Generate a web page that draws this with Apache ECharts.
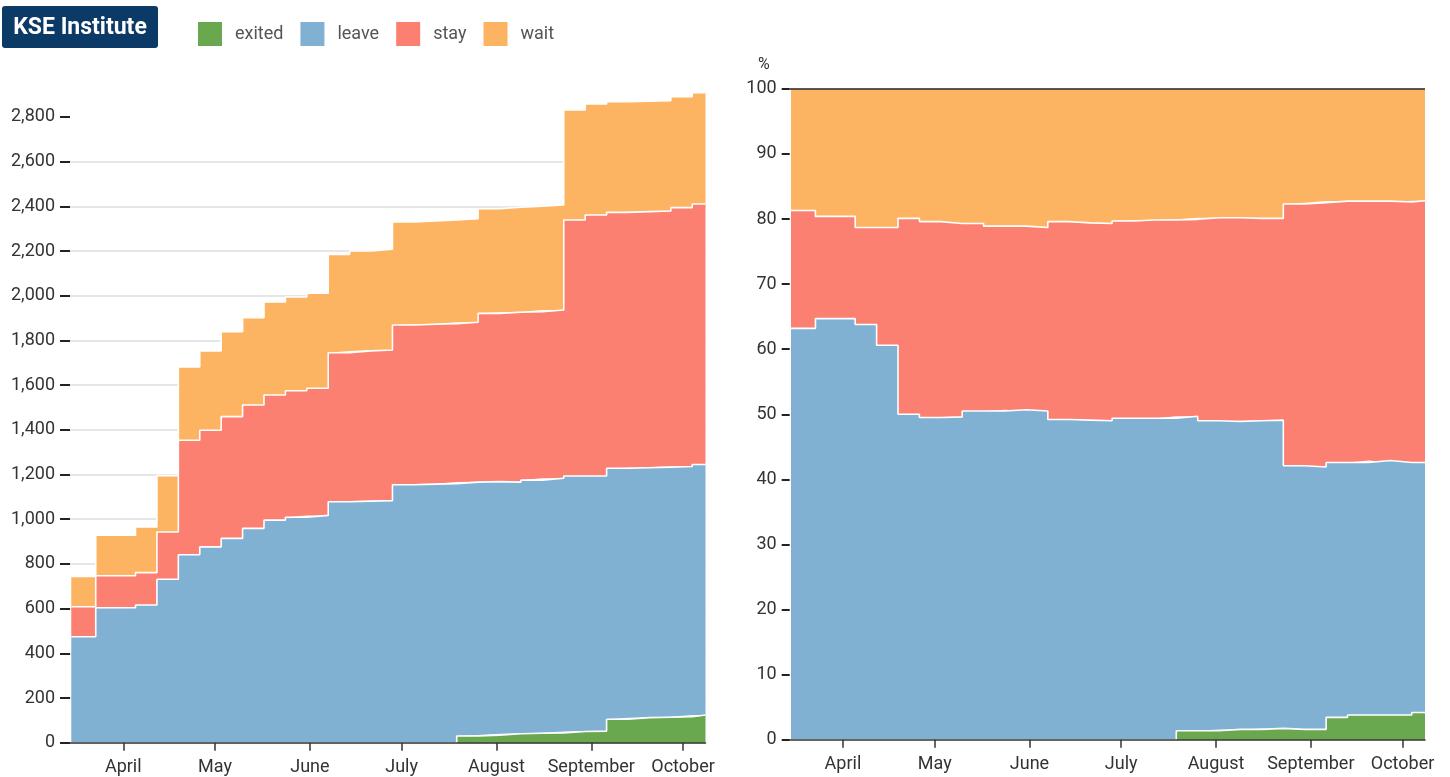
<!DOCTYPE html>
<html><head><meta charset="utf-8">
<script src="https://cdn.jsdelivr.net/npm/echarts@6/dist/echarts.min.js"></script>
<style>html,body{margin:0;padding:0;background:#fff}#c{width:1450px;height:777px}</style>
</head><body><div id="c"></div>
<script>
// ---- data ----
const dates = ['2022-03-15','2022-03-23','2022-04-05','2022-04-12','2022-04-19','2022-04-26','2022-05-03','2022-05-10','2022-05-17','2022-05-24','2022-05-31','2022-06-07','2022-06-14','2022-06-21','2022-06-28','2022-07-05','2022-07-12','2022-07-19','2022-07-26','2022-08-02','2022-08-09','2022-08-16','2022-08-23','2022-08-30','2022-09-06','2022-09-13','2022-09-20','2022-09-27','2022-10-04'];
const xStart = '2022-03-14T14:00:00';
const xEnd = '2022-10-08T08:00:00';
const seriesNames = ['exited','leave','stay','wait'];

const exited = [0,0,0,0,0,0,0,0,0,0,0,0,0,0,0,0,0,30,34,40,42,44,50,52,105,112,114,116,124];
const leave = [474,604,616,731,841,876,914,959,996,1009,1017,1078,1081,1083,1154,1157,1159,1136,1134,1126,1133,1139,1143,1141,1123,1118,1119,1120,1121];
const stay = [134,143,145,212,512,522,545,552,560,566,569,667,672,674,715,715,716,715,753,760,753,753,1146,1168,1145,1146,1146,1158,1165];
const wait = [136,181,204,252,328,355,380,391,416,419,425,440,447,451,461,462,464,464,468,470,472,470,492,497,495,494,494,496,498];

const exitedPct = [0,0,0,0,0,0,0,0,0,0,0,0,0,0,0,0,0,1.4,1.4,1.6,1.6,1.75,1.6,1.6,3.45,3.8,3.8,3.8,4.2];
const leavePct = [63.2,64.7,63.8,60.6,50.0,49.5,49.6,50.5,50.5,50.7,50.5,49.2,49.1,49.0,49.4,49.4,49.4,48.3,47.6,47.3,47.4,47.35,40.5,40.3,39.15,38.8,39.1,38.8,38.4];
const stayPct = [18.1,15.7,14.9,18.1,30.1,30.1,29.7,28.8,28.4,28.2,28.2,30.4,30.3,30.3,30.3,30.45,30.45,30.25,31.2,31.3,31.1,31.0,40.2,40.6,40.15,40.15,39.85,40.0,40.2];
const waitPct = [18.7,19.6,21.3,21.3,19.9,20.4,20.7,20.7,21.1,21.1,21.3,20.4,20.6,20.7,20.3,20.15,20.15,20.05,19.8,19.8,19.9,19.9,17.7,17.5,17.25,17.25,17.25,17.4,17.2];

const countTicks = [0,200,400,600,800,1000,1200,1400,1600,1800,2000,2200,2400,2600,2800];
const pctTicks = [0,10,20,30,40,50,60,70,80,90,100];
const monthTicks = ['2022-04-01','2022-05-01','2022-06-01','2022-07-01','2022-08-01','2022-09-01','2022-10-01'];
const monthLabels = ['April','May','June','July','August','September','October'];

// ---- styles ----
const colors = ['#6aa84f','#80b1d3','#fb8072','#fdb462'];
const FONT = 'Roboto';
const ts = s => new Date(s.length <= 10 ? s + 'T00:00:00' : s).getTime();
const monthTs = monthTicks.map(ts);

function monthFmt(v){
  let best = 0, bd = Infinity;
  monthTs.forEach((t,i)=>{ const d = Math.abs(t - v); if (d < bd){bd = d; best = i;} });
  return bd < 86400000 ? monthLabels[best] : '';
}

// rows are [value, date] so that the stack is computed on the value column
function makeSeries(vals, name, idx, axisIdx){
  const data = dates.map((d,i)=>[vals[i], ts(d)]);
  data.push([vals[vals.length-1], ts(xEnd)]);
  return {
    name, type:'line', step:'end', stack: 'st' + axisIdx,
    xAxisIndex: axisIdx, yAxisIndex: axisIdx,
    encode:{x:1, y:0},
    data, symbol:'none', showSymbol:false,
    color: colors[idx],
    lineStyle:{color:'#ffffff', width:1.6},
    areaStyle:{color: colors[idx], opacity:1},
    z: 6 - idx,
    emphasis:{disabled:true},
    animation:false
  };
}

const series = [];
[exited, leave, stay, wait].forEach((v,i)=>series.push(makeSeries(v, seriesNames[i], i, 0)));
[exitedPct, leavePct, stayPct, waitPct].forEach((v,i)=>series.push(makeSeries(v, seriesNames[i], i, 1)));
series[7].markLine = {
  silent:true, symbol:['none','none'], label:{show:false},
  lineStyle:{color:'#222', width:1.5, type:'solid'},
  data:[{yAxis:100}], animation:false
};

const xAxisBase = gi => ({
  type:'value', gridIndex: gi, min: ts(xStart), max: ts(xEnd), z: 10, scale:true,
  axisLine:{show:true, onZero:false, lineStyle:{color:'#333', width:1.5}},
  axisTick:{show:true, length:8, lineStyle:{color:'#333', width:1.5}, customValues: monthTs},
  axisLabel:{customValues: monthTs, formatter: monthFmt, color:'#333', fontSize:18, fontFamily:FONT, margin:16, showMinLabel:true, showMaxLabel:true},
  splitLine:{show:false}
});

const chart = echarts.init(document.getElementById('c'), null, {renderer:'canvas'});
chart.setOption({
  animation:false,
  backgroundColor:'#ffffff',
  legend:{
    data: seriesNames, left:198, top:22, padding:0, icon:'rect', itemWidth:24, itemHeight:24, itemGap:17,
    textStyle:{fontSize:18, color:'#555', fontFamily:FONT, padding:[0,0,0,8]},
    selectedMode:false
  },
  graphic:[
    {type:'rect', left:2, top:6, shape:{width:156, height:42, r:3}, style:{fill:'#0b3a66'}, z:100},
    {type:'text', x:80, y:28, style:{text:'KSE Institute', fill:'#ffffff', font:'bold 23px Roboto', align:'center', verticalAlign:'middle'}, z:101}
  ],
  grid:[
    {left:70, right:744.5, top:72.2, bottom:34.3},
    {left:789.7, right:25, top:88.8, bottom:37.2}
  ],
  xAxis:[xAxisBase(0), xAxisBase(1)],
  yAxis:[
    {type:'value', gridIndex:0, min:0, max:3000, interval:200,
      axisLine:{show:false},
      axisTick:{show:true, length:10, lineStyle:{color:'#222', width:2}, customValues: countTicks},
      axisLabel:{showMaxLabel:false, color:'#333', fontSize:18, fontFamily:FONT, margin:15,
        formatter: v => v > 2800 ? '' : v.toLocaleString('en-US')},
      splitLine:{show:true, showMaxLine:false, lineStyle:{color:'#e6e6e6', width:2}}
    },
    {type:'value', gridIndex:1, min:0, max:100, interval:10,
      name:'%', nameLocation:'end', nameGap:16,
      nameTextStyle:{color:'#333', fontSize:16, fontFamily:FONT, align:'right', padding:[0,20,0,0]},
      axisLine:{show:false},
      axisTick:{show:true, length:8, lineStyle:{color:'#222', width:2}},
      axisLabel:{color:'#333', fontSize:18, fontFamily:FONT, margin:13},
      splitLine:{show:false}
    }
  ],
  series
});
</script>
</body></html>
